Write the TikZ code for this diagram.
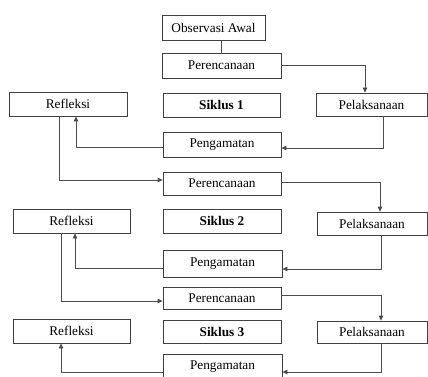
\documentclass[tikz,border=0pt]{standalone}
\usepackage{fontspec}
\setmainfont{Liberation Serif}
\usetikzlibrary{arrows.meta}
\begin{document}
\begin{tikzpicture}[x=1pt,y=-1pt,
  box/.style={draw=black!75, line width=0.8pt, rectangle, inner sep=0pt, text=black,
    font=\fontsize{13.3}{16}\selectfont},
  conn/.style={draw=black!70, line width=0.8pt},
  arr/.style={conn, -{Triangle[length=5pt,width=4.5pt]}}]
\useasboundingbox (0,0) rectangle (428,376);
\clip (0,0) rectangle (428,376);
\fill[white] (0,0) rectangle (428,376);
% nodes
\node[box, minimum width=103pt, minimum height=25pt] (obs) at (213.5,27.5) {Observasi Awal};
\node[box, minimum width=119pt, minimum height=25pt] (per1) at (221.5,65.5) {Perencanaan};
\node[box, minimum width=117pt, minimum height=24pt] (sik1) at (221.5,105) {\textbf{Siklus 1}};
\node[box, minimum width=118pt, minimum height=24pt] (ref1) at (68,104) {Refleksi};
\node[box, minimum width=111pt, minimum height=23pt] (pel1) at (371.5,104.5) {Pelaksanaan};
\node[box, minimum width=118pt, minimum height=25pt] (pen1) at (222,144.5) {Pengamatan};
\node[box, minimum width=118pt, minimum height=23pt] (per2) at (222,183.5) {Perencanaan};
\node[box, minimum width=117pt, minimum height=24pt] (ref2) at (71.5,221) {Refleksi};
\node[box, minimum width=118pt, minimum height=24pt] (sik2) at (222,221) {\textbf{Siklus 2}};
\node[box, minimum width=110pt, minimum height=23pt] (pel2) at (372,223.5) {Pelaksanaan};
\node[box, minimum width=119pt, minimum height=27pt] (pen2) at (222.5,263.5) {Pengamatan};
\node[box, minimum width=118pt, minimum height=22pt] (per3) at (222,298) {Perencanaan};
\node[box, minimum width=117pt, minimum height=24pt] (ref3) at (71.5,331) {Refleksi};
\node[box, minimum width=118pt, minimum height=23pt] (sik3) at (222,331.5) {\textbf{Siklus 3}};
\node[box, minimum width=110pt, minimum height=22pt] (pel3) at (372,332) {Pelaksanaan};
\node[box, minimum width=119pt, minimum height=26pt] (pen3) at (222.5,367) {Pengamatan};
% connectors
\draw[conn] (per1.north) -- (per1.north |- obs.south);
\draw[arr] (per1.east) -| ([xshift=-6.5pt]pel1.north);
\draw[arr] ([xshift=11.5pt]pel1.south) |- ([yshift=-3.5pt]pen1.east);
\draw[arr] ([yshift=-2.5pt]pen1.west) -| ([xshift=8pt]ref1.south);
\draw[arr] ([xshift=-9pt]ref1.south) |- ([yshift=3.5pt]per2.west);
\draw[arr] ([yshift=1.5pt]per2.east) -| ([xshift=8pt]pel2.north);
\draw[arr] ([xshift=9pt]pel2.south) |- ([yshift=-5.5pt]pen2.east);
\draw[arr] ([yshift=-4.5pt]pen2.west) -| ([xshift=3.5pt]ref2.south);
\draw[arr] ([xshift=-10.5pt]ref2.south) |- ([yshift=-3pt]per3.west);
\draw[arr] ([yshift=3pt]per3.east) -| ([xshift=9pt]pel3.north);
\draw[arr] ([xshift=9pt]pel3.south) |- ([yshift=-5pt]pen3.east);
\draw[arr] ([yshift=-5pt]pen3.west) -| ([xshift=-10.5pt]ref3.south);
\end{tikzpicture}
\end{document}
